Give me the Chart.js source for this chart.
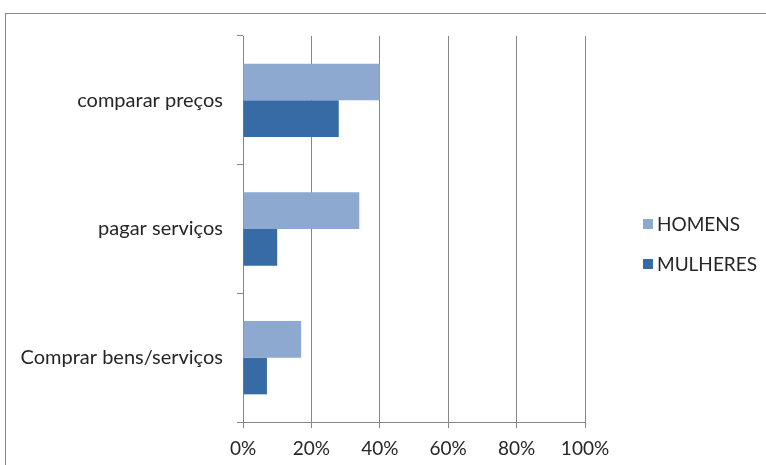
<!DOCTYPE html>
<html>
<head>
<meta charset="utf-8">
<script src="https://cdn.jsdelivr.net/npm/chart.js@4/dist/chart.umd.min.js"></script>
<style>
  html, body { margin: 0; padding: 0; background: #ffffff; overflow: hidden; }
  #wrap { position: relative; width: 766px; height: 465px; }
  #frame { position: absolute; left: 5px; top: 13px; width: 800px; height: 500px; border: 1px solid #868686; box-sizing: border-box; pointer-events: none; }
  canvas { position: absolute; left: 0; top: 0; }
</style>
</head>
<body>
<div id="wrap">
  <div id="frame"></div>
  <canvas id="chart" width="766" height="465"></canvas>
</div>
<script>
// Uses of online services, by sex (percent)
const categories = ['comparar preços', 'pagar serviços', 'Comprar bens/serviços'];
const homens = [40, 34, 17];
const mulheres = [28, 10, 7];
const xTicks = [0, 20, 40, 60, 80, 100];
const seriesNames = ['HOMENS', 'MULHERES'];
const seriesColors = ['#8EA9CF', '#376BA6'];

const FONT = 'Lato, "Open Sans", sans-serif';
const TEXT = '#262626';
const AXIS = '#868686';

// Legend drawn on the canvas, to the right of the plot
const sideLegend = {
  id: 'sideLegend',
  afterDraw(chart) {
    const ctx = chart.ctx;
    ctx.save();
    ctx.font = '19px ' + FONT;
    ctx.textBaseline = 'middle';
    ctx.textAlign = 'left';
    const rows = [224, 264];
    seriesNames.forEach((name, i) => {
      ctx.fillStyle = seriesColors[i];
      ctx.fillRect(643, rows[i] - 5, 10, 10);
      ctx.fillStyle = TEXT;
      ctx.fillText(name, 657, rows[i] + 1);
    });
    ctx.restore();
  }
};

new Chart(document.getElementById('chart'), {
  type: 'bar',
  data: {
    labels: categories,
    datasets: [
      { label: seriesNames[0], data: homens, backgroundColor: seriesColors[0] },
      { label: seriesNames[1], data: mulheres, backgroundColor: seriesColors[1] }
    ]
  },
  options: {
    indexAxis: 'y',
    responsive: false,
    animation: false,
    devicePixelRatio: 1,
    layout: { padding: { top: 36, right: 181, left: 0, bottom: 0 } },
    datasets: { bar: { barPercentage: 1.0, categoryPercentage: 0.57 } },
    plugins: { legend: { display: false }, tooltip: { enabled: false } },
    scales: {
      x: {
        min: 0, max: 100,
        afterBuildTicks(scale) { scale.ticks = xTicks.map(v => ({ value: v })); },
        afterFit(scale) { scale.height = 43; },
        ticks: { callback: v => v + '%', font: { family: FONT, size: 19 }, color: TEXT, padding: 9, maxRotation: 0 },
        grid: { color: AXIS, lineWidth: 1, tickLength: 6 },
        border: { color: AXIS, width: 1 }
      },
      y: {
        afterFit(scale) { scale.width = 243; },
        ticks: { font: { family: FONT, size: 20 }, color: TEXT, padding: 14 },
        grid: { offset: true, drawOnChartArea: false, color: AXIS, tickLength: 6 },
        border: { color: AXIS, width: 1 }
      }
    }
  },
  plugins: [sideLegend]
});
</script>
</body>
</html>
